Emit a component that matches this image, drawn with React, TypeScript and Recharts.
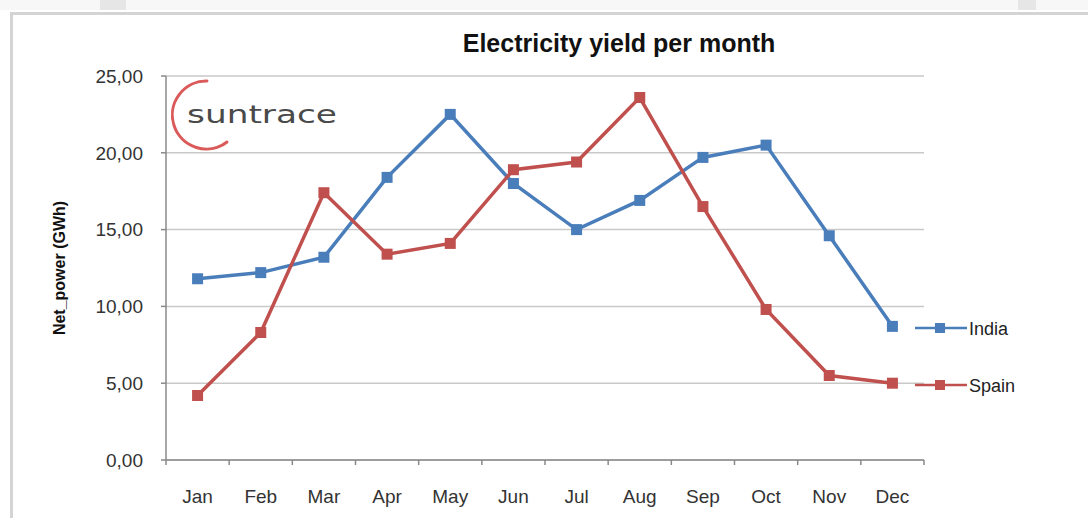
import React from 'react';
import { LineChart, Line, XAxis, YAxis, CartesianGrid } from 'recharts';

const months = ['Jan', 'Feb', 'Mar', 'Apr', 'May', 'Jun', 'Jul', 'Aug', 'Sep', 'Oct', 'Nov', 'Dec'];
const india = [11.8, 12.2, 13.2, 18.4, 22.5, 18.0, 15.0, 16.9, 19.7, 20.5, 14.6, 8.7];
const spain = [4.2, 8.3, 17.4, 13.4, 14.1, 18.9, 19.4, 23.6, 16.5, 9.8, 5.5, 5.0];
const yTicks = [0, 5, 10, 15, 20, 25];

const series = [
  { name: 'India', color: '#4a7ebb', values: india },
  { name: 'Spain', color: '#c0504d', values: spain },
];

const data = months.map((m, i) => ({ month: m, India: india[i], Spain: spain[i] }));

const FONT = 'Arial, "Liberation Sans", sans-serif';
const W = 1088;
const H = 518;
// x axis keeps its default 30px height, so bottom margin is 58 - 30
const M = { top: 76, right: 164, bottom: 28, left: 0 };
const Y_W = 166;
const BAND = (W - M.left - M.right - Y_W) / months.length;

const squareDot = (color: string) => (props: any) => {
  const { cx, cy, index } = props;
  if (cx == null || cy == null) return <g key={`d-${index}`} />;
  return <rect key={`d-${index}`} x={cx - 5.5} y={cy - 5.5} width={11} height={11} fill={color} />;
};

// month label at the band centre, tick marks on the band edges
const MonthTick = (props: any) => {
  const { x, y, payload, index } = props;
  const left = x - BAND / 2;
  const right = x + BAND / 2;
  return (
    <g>
      <line x1={left} y1={y} x2={left} y2={y + 5} stroke="#8a8a8a" strokeWidth={1.5} />
      {index === months.length - 1 && (
        <line x1={right} y1={y} x2={right} y2={y + 5} stroke="#8a8a8a" strokeWidth={1.5} />
      )}
      <text x={x} y={y + 43} textAnchor="middle" fontSize={19} fontFamily={FONT} fill="#333">
        {payload.value}
      </text>
    </g>
  );
};

export default function App() {
  return (
    <div style={{ position: 'absolute', left: 0, top: 0, width: W, height: H, background: '#fff', overflow: 'hidden' }}>
      {/* outer frame */}
      <div style={{ position: 'absolute', left: 10, top: 12, width: 1090, height: 520, border: '3px solid #d4d4d4', boxSizing: 'border-box' }} />
      <div style={{ position: 'absolute', left: 0, top: 0, width: W, height: 10, background: '#f7f7f7' }} />
      <div style={{ position: 'absolute', left: 100, top: 0, width: 26, height: 10, background: '#e6e6e6' }} />
      <div style={{ position: 'absolute', left: 1018, top: 0, width: 18, height: 10, background: '#e6e6e6' }} />

      <div
        style={{
          position: 'absolute',
          left: 619,
          top: 29,
          transform: 'translateX(-50%)',
          fontFamily: FONT,
          fontWeight: 'bold',
          fontSize: 25,
          color: '#111',
          whiteSpace: 'nowrap',
        }}
      >
        Electricity yield per month
      </div>

      <div style={{ position: 'absolute', left: 0, top: 0 }}>
        <LineChart width={W} height={H} data={data} margin={M}>
          <CartesianGrid horizontal vertical={false} stroke="#c9c9c9" strokeWidth={1.5} />
          <XAxis
            dataKey="month"
            stroke="#8a8a8a"
            strokeWidth={1.5}
            tickLine={false}
            tickSize={0}
            tickMargin={0}
            padding={{ left: BAND / 2, right: BAND / 2 }}
            tick={MonthTick}
            interval={0}
          />
          <YAxis
            width={Y_W}
            domain={[0, 25]}
            ticks={yTicks}
            stroke="#8a8a8a"
            strokeWidth={1.5}
            tickSize={5}
            tickMargin={18}
            tick={{ fontSize: 19, fontFamily: FONT, fill: '#333' }}
            tickFormatter={(v: number) => v.toFixed(2).replace('.', ',')}
            label={{
              value: 'Net_power (GWh)',
              angle: -90,
              position: 'insideLeft',
              offset: 59,
              style: { fontSize: 16, fontWeight: 'bold', fontFamily: FONT, fill: '#111', textAnchor: 'middle' },
            }}
          />
          {series.map((s) => (
            <Line
              key={s.name}
              type="linear"
              dataKey={s.name}
              stroke={s.color}
              strokeWidth={3.5}
              dot={squareDot(s.color)}
              activeDot={false}
              isAnimationActive={false}
            />
          ))}
        </LineChart>
      </div>

      {/* legend */}
      <svg style={{ position: 'absolute', left: 910, top: 316 }} width={150} height={90}>
        {series.map((s, i) => {
          const y = 12 + i * 57;
          return (
            <g key={s.name}>
              <line x1={5} y1={y} x2={57} y2={y} stroke={s.color} strokeWidth={2.5} />
              <rect x={25} y={y - 5} width={10} height={10} fill={s.color} />
              <text x={59} y={y + 7} fontSize={18} fontFamily={FONT} fill="#222">
                {s.name}
              </text>
            </g>
          );
        })}
      </svg>

      {/* suntrace logo */}
      <svg style={{ position: 'absolute', left: 160, top: 76 }} width={200} height={80}>
        <path d="M 47 5 A 34 34 0 1 0 67 66" fill="none" stroke="#d43c3c" strokeWidth={3} strokeLinecap="round" opacity={0.85} />
        <text
          x={27}
          y={47}
          fontSize={25}
          fontFamily='"DejaVu Sans", sans-serif'
          fill="#4a4a4a"
          textLength={150}
          lengthAdjust="spacingAndGlyphs"
        >
          suntrace
        </text>
      </svg>
    </div>
  );
}
